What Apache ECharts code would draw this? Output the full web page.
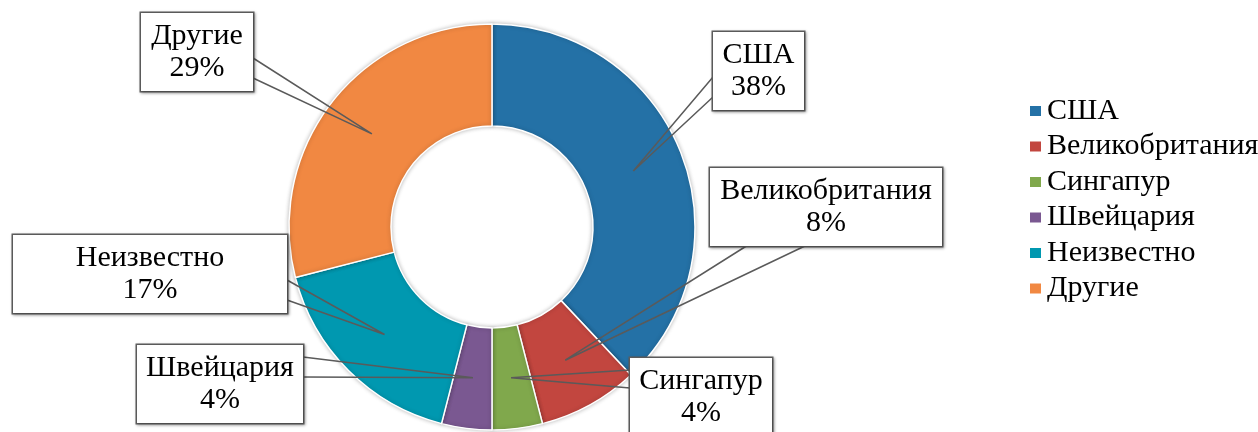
<!DOCTYPE html>
<html>
<head>
<meta charset="utf-8">
<script src="https://cdn.jsdelivr.net/npm/echarts@6/dist/echarts.min.js"></script>
<style>
  html, body { margin: 0; padding: 0; background: #fff; }
  #chart { width: 1258px; height: 432px; }
</style>
</head>
<body>
<div id="chart"></div>
<script>
// ---- data ----
const categories = ['США', 'Великобритания', 'Сингапур', 'Швейцария', 'Неизвестно', 'Другие'];
const values = [38, 8, 4, 4, 17, 29];

// ---- styles (not data) ----
const colors = ['#2471a6', '#c2463f', '#80a84c', '#7a5891', '#0098b0', '#f18842'];
// label box layout: centre x, top y, box width, callout base points
const boxes = [
  { cx: 758.5, top: 32,  w: 91,  base: [[713, 77], [713, 97]] },
  { cx: 826,   top: 168, w: 232, base: [[748, 245], [807, 245]] },
  { cx: 701,   top: 358, w: 142, base: [[630, 370], [630, 388]] },
  { cx: 220,   top: 345, w: 166, base: [[303, 357], [303, 377]] },
  { cx: 150,   top: 235, w: 274, base: [[287, 280], [287, 300]] },
  { cx: 197,   top: 13,  w: 112, base: [[253, 58], [253, 78]] }
];
const CX = 492, CY = 227, R0 = 101, R1 = 203;
const RMID = (R0 + R1) / 2;
const FONT = 'Liberation Serif';
const PADH = 6;

const total = values.reduce((a, b) => a + b, 0);
function anchorFor(i, p0) {
  if (p0) {
    const d = Math.hypot(p0[0] - CX, p0[1] - CY);
    if (d > 1) {
      const k = RMID / d;
      return [CX + (p0[0] - CX) * k, CY + (p0[1] - CY) * k];
    }
  }
  let cum = 0;
  for (let j = 0; j < i; j++) cum += values[j];
  const a = ((cum + values[i] / 2) / total) * 2 * Math.PI;
  return [CX + RMID * Math.sin(a), CY - RMID * Math.cos(a)];
}

const ringData = categories.map((name, i) => ({
  name: name,
  value: values[i],
  itemStyle: { color: colors[i] }
}));
const labelData = categories.map((name, i) => ({
  name: name,
  value: values[i],
  label: { width: boxes[i].w - 2 * PADH, overflow: 'none', fontFamily: FONT }
}));

const chart = echarts.init(document.getElementById('chart'), null, { renderer: 'canvas' });
chart.setOption({
  animation: false,
  backgroundColor: '#ffffff',
  textStyle: { fontFamily: FONT },
  legend: {
    orient: 'vertical',
    left: 1028,
    top: 96,
    padding: 0,
    itemWidth: 13,
    itemHeight: 12,
    itemGap: 5.5,
    icon: 'rect',
    data: categories.map((n, i) => ({ name: n, itemStyle: { color: colors[i] } })),
    textStyle: { fontFamily: FONT, fontSize: 30, color: '#000', lineHeight: 30 }
  },
  series: [{
    type: 'pie',
    z: 2,
    center: [CX, CY],
    radius: [R0, R1],
    startAngle: 90,
    clockwise: true,
    data: ringData,
    silent: true,
    itemStyle: {
      borderColor: '#ffffff',
      borderWidth: 1.5,
      shadowBlur: 4,
      shadowColor: 'rgba(0,0,0,0.25)'
    },
    label: { show: false },
    labelLine: { show: false },
    emphasis: { disabled: true }
  }, {
    type: 'pie',
    z: 5,
    center: [CX, CY],
    radius: [R0, R1],
    startAngle: 90,
    clockwise: true,
    avoidLabelOverlap: false,
    percentPrecision: 0,
    silent: true,
    data: labelData,
    itemStyle: { color: 'rgba(0,0,0,0)', borderWidth: 0 },
    emphasis: { disabled: true },
    label: {
      show: true,
      position: 'outside',
      formatter: '{b}\n{d}%',
      fontFamily: FONT,
      fontSize: 30,
      lineHeight: 32,
      overflow: 'none',
      color: '#000',
      align: 'center',
      backgroundColor: '#ffffff',
      borderColor: '#5f5f5f',
      borderWidth: 1.5,
      padding: [7, PADH],
      shadowColor: 'rgba(0,0,0,0.3)',
      shadowBlur: 3,
      shadowOffsetX: 1,
      shadowOffsetY: 1
    },
    labelLine: {
      show: true,
      lineStyle: { color: '#5a5a5a', width: 1.5 }
    },
    labelLayout: function (params) {
      const i = params.dataIndex;
      const b = boxes[i];
      const p0 = params.labelLinePoints && params.labelLinePoints[0];
      const anc = anchorFor(i, p0);
      return {
        x: b.cx,
        y: b.top,
        align: 'center',
        verticalAlign: 'top',
        labelLinePoints: [b.base[0], anc, b.base[1]]
      };
    }
  }]
});
</script>
</body>
</html>
